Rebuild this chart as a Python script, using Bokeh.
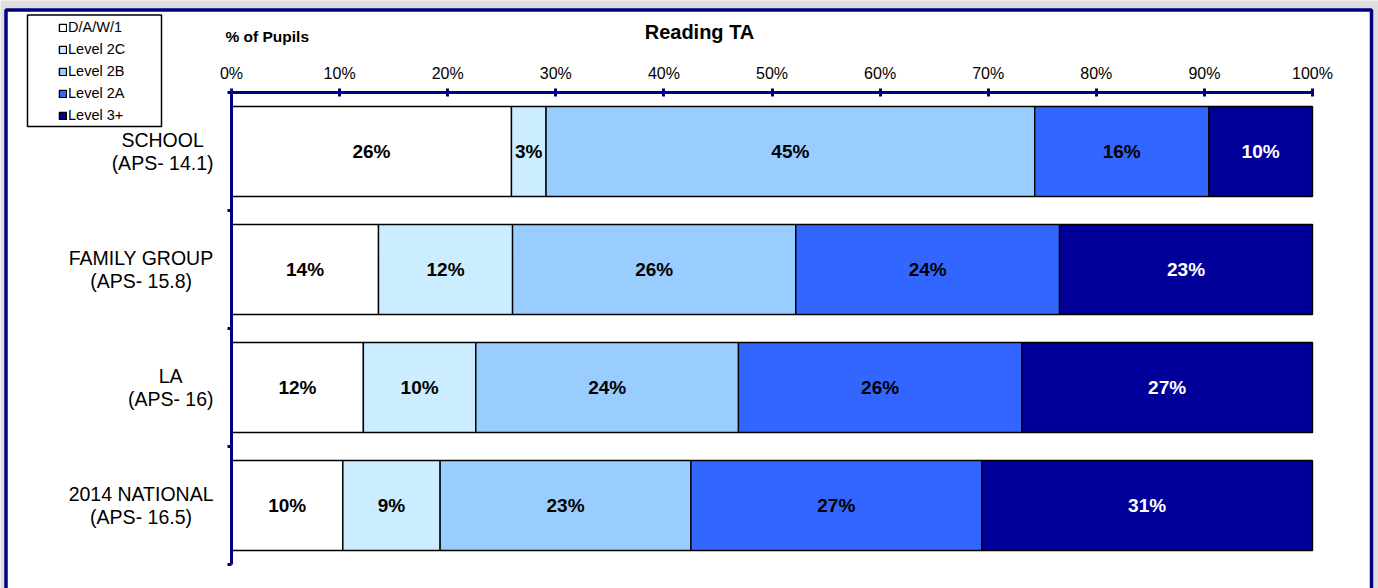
from bokeh.plotting import figure
from bokeh.models import (Range1d, FixedTicker, Legend, LegendItem, Label,
                          BoxAnnotation, ColumnDataSource)
from bokeh.core.properties import value
from bokeh.embed import file_html
from bokeh.resources import INLINE

# ---------------- data ----------------
chart_title = "Reading TA"
value_title = "% of Pupils"
categories = ["SCHOOL\n(APS- 14.1)", "FAMILY GROUP\n(APS- 15.8)",
              "LA\n(APS- 16)", "2014 NATIONAL\n(APS- 16.5)"]
levels = ["D/A/W/1", "Level 2C", "Level 2B", "Level 2A", "Level 3+"]
dawl = [25.9, 13.6, 12.2, 10.3]
level_2c = [3.2, 12.4, 10.4, 9.0]
level_2b = [45.2, 26.2, 24.3, 23.2]
level_2a = [16.1, 24.4, 26.2, 26.9]
level_3 = [9.6, 23.4, 26.9, 30.6]
x_ticks = [0, 10, 20, 30, 40, 50, 60, 70, 80, 90, 100]
x_tick_labels = ["0%", "10%", "20%", "30%", "40%", "50%", "60%", "70%", "80%", "90%", "100%"]

series = [dawl, level_2c, level_2b, level_2a, level_3]

# ---------------- styles / layout ----------------
fills = ["#FFFFFF", "#CCECFF", "#99CCFF", "#3366FF", "#000099"]
text_colors = ["black", "black", "black", "black", "white"]
NAVY = "#000080"
FONT = "Liberation Sans"

W, H = 1378, 588          # canvas
X0, X1 = 231, 1312        # pixel position of 0% and 100%
YT, BAND = 92, 118        # top of first category band, band height (px)
PPX = (X1 - X0) / 100.0


def dx(px):
    return (px - X0) / PPX


def dy(py):
    return (py - YT) / BAND


p = figure(width=W, height=H,
           x_range=Range1d(dx(0), dx(W)), y_range=Range1d(dy(H), dy(0)),
           output_backend="svg", toolbar_location=None, x_axis_location="above",
           min_border=0, min_border_left=0, min_border_right=0,
           min_border_top=0, min_border_bottom=0)
p.title.visible = False
p.grid.visible = False
p.outline_line_color = None
p.background_fill_color = "#DEDEDE"
p.border_fill_color = "#DEDEDE"

# white chart area with navy frame
p.add_layout(BoxAnnotation(left=dx(5.5), right=dx(1371), top=dy(9.5), bottom=dy(H + 60),
                           fill_color="white", fill_alpha=1, line_color=NAVY,
                           line_alpha=1, line_width=3.5, level="underlay"))

ys = [i + 0.5 for i in range(len(categories))]
cum = [0.0] * len(categories)
renderers = []
tx, ty, tt, tc = [], [], [], []
for vals, fill, tcol in zip(series, fills, text_colors):
    left = cum[:]
    right = [a + b for a, b in zip(cum, vals)]
    src = ColumnDataSource(dict(y=ys, left=left, right=right))
    r = p.hbar(y="y", left="left", right="right", height=0.763, source=src,
               fill_color=fill, line_color="black", line_width=1.4)
    renderers.append(r)
    for yy, l, rr, v in zip(ys, left, right, vals):
        tx.append((l + rr) / 2)
        ty.append(yy)
        tt.append(f"{v:.0f}%")
        tc.append(tcol)
    cum = right

p.text(x="x", y="y", text="text", text_color="color",
       source=ColumnDataSource(dict(x=tx, y=ty, text=tt, color=tc)),
       text_font=value(FONT), text_font_size="19px", text_font_style="bold",
       text_align="center", text_baseline="middle")

# category labels (right edge at px 213, lines centred)
p.text(x=[dx(213)] * len(categories), y=ys, text=categories,
       text_font=value(FONT), text_font_size="19.5px", text_color="black",
       text_align="center", text_baseline="middle", anchor=value("center_right"),
       text_line_height=1.02)

# x axis (top)
xa = p.xaxis[0]
xa.fixed_location = 0
xa.bounds = (0, 100)
xa.ticker = FixedTicker(ticks=x_ticks)
xa.major_label_overrides = {t: l for t, l in zip(x_ticks, x_tick_labels)}
xa.axis_line_color = NAVY
xa.axis_line_width = 3
xa.major_tick_line_color = NAVY
xa.major_tick_line_width = 3
xa.major_tick_in = 4
xa.major_tick_out = 4
xa.minor_tick_line_color = None
xa.major_label_text_font = FONT
xa.major_label_text_font_size = "16px"
xa.major_label_text_color = "black"
xa.major_label_standoff = 7

# y axis (left) - category band boundaries
ya = p.yaxis[0]
ya.fixed_location = 0
ya.bounds = (0, len(categories))
ya.ticker = FixedTicker(ticks=[], minor_ticks=list(range(len(categories) + 1)))
ya.axis_line_color = NAVY
ya.axis_line_width = 3
ya.major_tick_line_color = None
ya.major_label_text_font_size = "0px"
ya.minor_tick_line_color = NAVY
ya.minor_tick_line_width = 3
ya.minor_tick_in = 0
ya.minor_tick_out = 4

# legend box + legend
p.add_layout(BoxAnnotation(left=dx(27), right=dx(161), top=dy(14.5), bottom=dy(126),
                           fill_color="white", fill_alpha=1, line_color="black",
                           line_alpha=1, line_width=1.5))
legend = Legend(items=[LegendItem(label=l, renderers=[r]) for l, r in zip(levels, renderers)],
                location=(58, H - 126), padding=0, margin=0, spacing=0,
                label_height=22, glyph_height=9, glyph_width=9, label_standoff=1,
                label_text_font=FONT, label_text_font_size="14.5px",
                label_text_color="black",
                border_line_alpha=0, background_fill_alpha=0)
p.add_layout(legend)

p.add_layout(Label(x=dx(699), y=dy(31), text=chart_title, text_color="black",
                   text_font=FONT, text_font_size="20px", text_font_style="bold",
                   text_align="center", text_baseline="middle"))
p.add_layout(Label(x=dx(225), y=dy(36), text=value_title, text_color="black",
                   text_font=FONT, text_font_size="15.5px", text_font_style="bold",
                   text_align="left", text_baseline="middle"))

open("out.html", "w").write(file_html(p, INLINE))
